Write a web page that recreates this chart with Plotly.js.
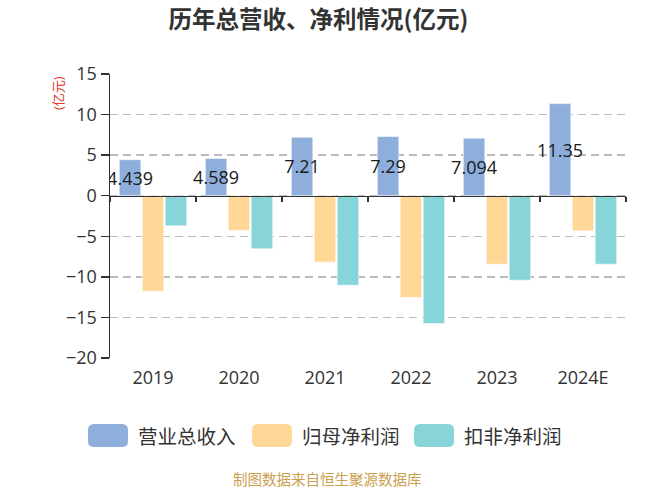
<!DOCTYPE html>
<html>
<head>
<meta charset="utf-8">
<script src="https://cdn.plot.ly/plotly-3.0.1.min.js"></script>
<style>html,body{margin:0;padding:0;background:#fff;}#chart{width:650px;height:488px;}</style>
</head>
<body>
<div id="chart"></div>
<script>
// ---- data ----
const years = ['2019', '2020', '2021', '2022', '2023', '2024E'];
const revenue = [4.439, 4.589, 7.21, 7.29, 7.094, 11.35];          // 营业总收入
const netProfit = [-11.77, -4.28, -8.19, -12.55, -8.44, -4.33];     // 归母净利润
const deductedProfit = [-3.71, -6.55, -11.03, -15.76, -10.41, -8.44]; // 扣非净利润
const seriesNames = ['营业总收入', '归母净利润', '扣非净利润'];
const yTicks = [-20, -15, -10, -5, 0, 5, 10, 15];

// ---- style ----
const colors = ['#8eaedb', '#ffd797', '#87d5d8'];
const FONT = 'Open Sans, "Noto Sans CJK SC", sans-serif';
const yMin = -20, yMax = 15;
const M = {l: 110, r: 24, t: 74, b: 130};
const PW = 650 - M.l - M.r, PH = 488 - M.t - M.b;
const fx = px => (px - M.l) / PW;
const fy = py => (488 - M.b - py) / PH;

function barTrace(vals, i, withText) {
  const t = {
    type: 'bar', name: seriesNames[i], x: years, y: vals,
    marker: {color: colors[i], line: {color: 'rgba(255,255,255,0.6)', width: 1}},
    hoverinfo: 'skip', showlegend: false
  };
  if (withText) {
    t.texttemplate = '%{y}';
    t.textposition = 'inside';
    t.insidetextanchor = 'middle';
    t.constraintext = 'none';
    t.textangle = 0;
    t.insidetextfont = {size: 18, color: '#1a1a1a', family: FONT};
  }
  return t;
}

const traces = [
  barTrace(revenue, 0, true),
  barTrace(netProfit, 1, false),
  barTrace(deductedProfit, 2, false),
  // invisible helper to carry the zero-line category axis
  {type: 'scatter', mode: 'markers', x: years, y: years.map(() => 0), xaxis: 'x2', yaxis: 'y',
   marker: {opacity: 0, size: 1}, hoverinfo: 'skip', showlegend: false}
];

// custom legend (rounded swatches)
function roundRect(x0, y0, x1, y1, r) {
  const rx = r / PW, ry = r / PH;
  const X0 = fx(x0), X1 = fx(x1), Yt = fy(y0), Yb = fy(y1);
  return `M${X0 + rx},${Yb} L${X1 - rx},${Yb} Q${X1},${Yb} ${X1},${Yb + ry} L${X1},${Yt - ry} Q${X1},${Yt} ${X1 - rx},${Yt} L${X0 + rx},${Yt} Q${X0},${Yt} ${X0},${Yt - ry} L${X0},${Yb + ry} Q${X0},${Yb} ${X0 + rx},${Yb} Z`;
}
const legendX = [88, 252, 414];
const shapes = [], annotations = [];
seriesNames.forEach((n, i) => {
  shapes.push({type: 'path', xref: 'paper', yref: 'paper', path: roundRect(legendX[i], 424, legendX[i] + 40, 447, 6),
    fillcolor: colors[i], line: {width: 0}});
  annotations.push({xref: 'paper', yref: 'paper', x: fx(legendX[i] + 48), y: fy(436), xanchor: 'left', yanchor: 'middle',
    text: n, showarrow: false, font: {size: 19.5, color: '#333', family: FONT}});
});
annotations.push({xref: 'paper', yref: 'paper', x: fx(58), y: fy(93), text: '(亿元)', textangle: -90,
  showarrow: false, font: {size: 13, color: '#e8342b', family: FONT}, xanchor: 'center', yanchor: 'middle'});
annotations.push({xref: 'paper', yref: 'paper', x: fx(327), y: fy(479), text: '制图数据来自恒生聚源数据库',
  showarrow: false, font: {size: 14.5, color: '#c9a04e', family: FONT}, xanchor: 'center', yanchor: 'middle'});

const layout = {
  width: 650, height: 488,
  margin: M,
  paper_bgcolor: '#fff', plot_bgcolor: '#fff',
  font: {family: FONT, color: '#333'},
  title: {text: '<b>历年总营收、净利情况(亿元)</b>', x: 0.49, xanchor: 'center', y: 0.96, yanchor: 'middle',
    font: {size: 23.5, color: '#333', family: '"Noto Sans CJK SC", sans-serif'}},
  barmode: 'group', bargap: 0.2, bargroupgap: 0.06,
  showlegend: false,
  xaxis: {type: 'category', categoryarray: years, range: [-0.5, years.length - 0.5],
    showline: false, ticks: '', showgrid: false, zeroline: false,
    tickfont: {size: 18, color: '#333'}, ticklabelstandoff: 7, fixedrange: true},
  xaxis2: {type: 'category', categoryarray: years, range: [-0.5, years.length - 0.5], overlaying: 'x',
    anchor: 'free', position: (0 - yMin) / (yMax - yMin), side: 'bottom',
    showline: true, linecolor: '#333', linewidth: 1.5, ticks: 'outside', tickson: 'boundaries',
    ticklen: 5, tickcolor: '#333', tickwidth: 1.5, showticklabels: false, showgrid: false, zeroline: false},
  yaxis: {range: [yMin, yMax], tickvals: yTicks, showline: true, linecolor: '#333', linewidth: 1.5,
    ticks: 'outside', ticklen: 8, tickcolor: '#333', tickwidth: 1.5,
    showgrid: true, gridcolor: '#bbb', gridwidth: 1.5, griddash: '8px,5px', zeroline: false,
    tickfont: {size: 18, color: '#333'}, fixedrange: true},
  shapes: shapes,
  annotations: annotations
};

Plotly.newPlot('chart', traces, layout, {staticPlot: true, displayModeBar: false});
</script>
</body>
</html>
